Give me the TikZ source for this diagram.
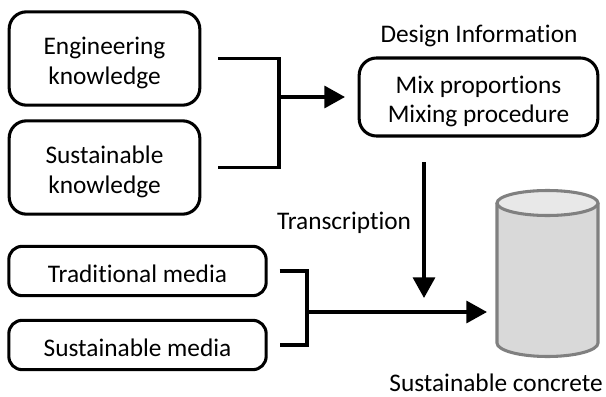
\documentclass[tikz,border=0pt]{standalone}
\usepackage{fontspec}
\setmainfont[Ligatures=NoCommon]{Carlito}
\usepackage{tikz}
\usetikzlibrary{positioning,arrows.meta}
\tikzset{
  box/.style={draw=black,line width=2.3pt,rounded corners=13pt,align=center,inner sep=0pt,font=\fontsize{19pt}{22pt}\selectfont},
  oneline/.style={box,execute at begin node={\rule{0pt}{17.5pt}}},
  twoline/.style={box,execute at begin node={\rule{0pt}{42pt}}},
  label/.style={inner sep=0pt,font=\fontsize{19pt}{22pt}\selectfont},
  wire/.style={draw=black,line width=2.5pt},
  arrow/.style={wire,-{Triangle[length=15.5pt,width=16.5pt]}},
  can/.style={draw=black!50,line width=2.3pt}
}
\begin{document}
\begin{tikzpicture}[x=0.75pt,y=0.75pt]
\useasboundingbox (0,0) rectangle (606,-396);
% boxes
\node [twoline,minimum width=143pt,minimum height=70pt] (eng) at (104.5,-58.5) {Engineering\\knowledge};
\node [twoline,minimum width=143pt,minimum height=70pt] (sus) at (104.5,-167.5) {Sustainable\\knowledge};
\node [oneline,minimum width=193pt,minimum height=37pt,rounded corners=10pt] (trad) at (137.5,-271) {Traditional media};
\node [oneline,minimum width=193pt,minimum height=37pt,rounded corners=10pt] (media) at (137.5,-345) {Sustainable media};
\node [twoline,minimum width=179pt,minimum height=58.5pt] (mix) at (478.5,-97) {Mix proportions\\Mixing procedure};
% concrete
\draw [can,fill=black!15] (497,-203) -- (497,-343) arc (180:360:50.5 and 13.5) -- (598,-203);
\draw [can,fill=black!9] (547.5,-203) ellipse (50.5 and 12.5);
% labels
\node [label] (info) at (479,-36) {Design Information};
\node [label] (trans) at (344,-223) {Transcription};
\node [label] (name) at (496,-382.5) {Sustainable concrete};
% joints
\coordinate (top) at (279,-97);
\coordinate (low) at (307,-312);
\coordinate (drop) at (424,-162);
\coordinate (hit) at (424,-298);
\coordinate (into) at (487,-312);
\coordinate (toMix) at (345,-97);
% connectors
\draw [wire,shorten <=12.5pt,shorten >=12.5pt] (eng.east) -- (eng.east -| top) -- (sus.east -| top) -- (sus.east);
\draw [arrow] (top) -- (toMix);
\draw [wire,shorten <=9pt,shorten >=9pt] (trad.east) -- (trad.east -| low) -- (media.east -| low) -- (media.east);
\draw [arrow] (low) -- (into);
\draw [arrow] (drop) -- (hit);
\end{tikzpicture}
\end{document}
